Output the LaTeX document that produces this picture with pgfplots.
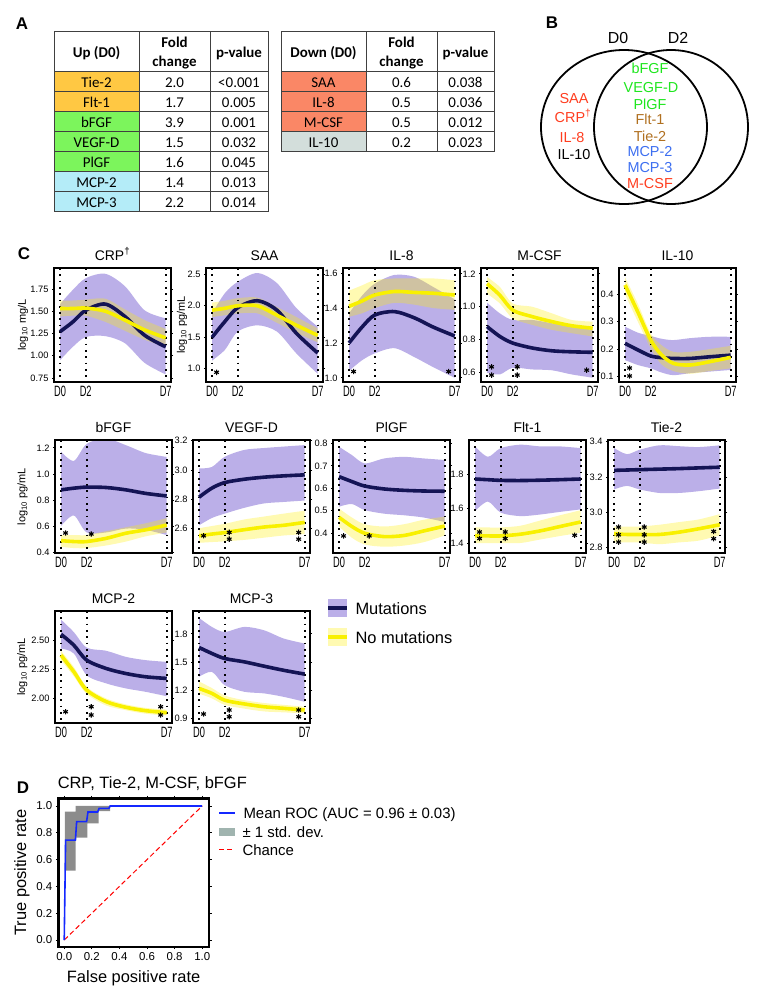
\documentclass[border=0pt]{standalone}
\usepackage{fontspec}
\setmainfont{Liberation Sans}
\newfontfamily\tabfont{Carlito}
\usepackage{graphicx}
\usepackage{pgfplots}
\usepackage{pgfplotstable}
\pgfplotsset{compat=1.18}
\usepgfplotslibrary{fillbetween}

\definecolor{navyc}{RGB}{20,20,85}
\definecolor{purpc}{RGB}{120,95,210}
\definecolor{yelc}{RGB}{248,240,0}
\definecolor{yelband}{RGB}{255,240,0}
\definecolor{orangec}{RGB}{255,200,67}
\definecolor{greenc}{RGB}{124,245,92}
\definecolor{bluec}{RGB}{180,236,248}
\definecolor{salmonc}{RGB}{250,135,102}
\definecolor{greyc}{RGB}{211,222,219}
\definecolor{vred}{RGB}{255,61,31}
\definecolor{vgreen}{RGB}{30,230,30}
\definecolor{vbrown}{RGB}{176,112,32}
\definecolor{vblue}{RGB}{60,110,240}
\definecolor{rocblue}{RGB}{20,40,255}
\definecolor{bandgray}{RGB}{140,140,140}
\definecolor{leggray}{RGB}{160,180,175}

\newcommand\fs[1]{\fontsize{#1}{#1}\selectfont}
\newcommand\dlab[1]{\scalebox{0.62}[1]{#1}}

% columns: x, mutations mean/low/high, no mutations mean/low/high
\pgfplotstableread{
x    m     ml    mh    n     nl    nh
0    1.27  0.95  1.58  1.53  1.44  1.62
0.85 1.38  1.10  1.74  1.53  1.45  1.62
1.7  1.51  1.21  1.87  1.535 1.45  1.63
3    1.58  1.22  1.92  1.50  1.38  1.64
4.3  1.44  1.14  1.78  1.40  1.28  1.52
5.6  1.23  0.92  1.51  1.29  1.18  1.40
7    1.10  0.79  1.42  1.20  1.10  1.30
}\crp
\pgfplotstableread{
x    m     ml    mh    n     nl    nh
0    1.50  1.13  1.88  1.93  1.82  2.05
0.85 1.75  1.30  2.20  1.96  1.85  2.08
1.7  1.97  1.59  2.38  2.00  1.88  2.12
3    2.08  1.69  2.52  2.00  1.88  2.13
4.3  1.93  1.59  2.36  1.85  1.73  1.98
5.6  1.56  1.24  1.96  1.69  1.57  1.82
7    1.25  0.92  1.67  1.53  1.42  1.64
}\saa
\pgfplotstableread{
x    m     ml    mh    n     nl    nh
0    1.20  1.04  1.37  1.41  1.35  1.50
0.85 1.29  1.10  1.47  1.44  1.37  1.53
1.7  1.36  1.14  1.54  1.475 1.40  1.56
3    1.38  1.17  1.59  1.495 1.43  1.57
4.3  1.345 1.12  1.58  1.49  1.42  1.57
5.6  1.29  1.06  1.52  1.485 1.40  1.57
7    1.24  1.00  1.45  1.475 1.39  1.56
}\ileight
\pgfplotstableread{
x    m     ml    mh    n     nl    nh
0    0.88  0.60  1.025 1.14  1.08  1.18
0.85 0.82  0.59  0.96  1.07  1.02  1.12
1.7  0.78  0.63  0.92  0.98  0.93  1.02
3    0.75  0.62  0.92  0.94  0.89  1.00
4.3  0.733 0.615 0.90  0.91  0.86  0.96
5.6  0.727 0.59  0.88  0.885 0.84  0.92
7    0.724 0.57  0.86  0.87  0.82  0.91
}\mcsf
\pgfplotstableread{
x    m     ml    mh    n     nl    nh
0    0.221 0.16  0.282 0.434 0.40  0.462
0.85 0.197 0.142 0.26  0.335 0.30  0.365
1.7  0.175 0.13  0.248 0.233 0.203 0.257
2.4  0.169 0.115 0.238 0.18  0.145 0.215
3.2  0.166 0.105 0.233 0.148 0.12  0.19
4.3  0.166 0.112 0.24  0.142 0.11  0.19
5.6  0.172 0.118 0.245 0.154 0.12  0.20
7    0.178 0.124 0.245 0.17  0.13  0.212
}\ilten
\pgfplotstableread{
x    m     ml    mh    n     nl    nh
0    0.877 0.60  1.17  0.487 0.44  0.53
0.85 0.89  0.68  1.10  0.48  0.43  0.53
1.7  0.898 0.55  1.23  0.48  0.43  0.53
3    0.895 0.55  1.27  0.505 0.45  0.56
4.3  0.877 0.58  1.22  0.544 0.48  0.59
5.6  0.85  0.57  1.16  0.57  0.52  0.62
7    0.83  0.53  1.13  0.607 0.55  0.66
}\bfgf
\pgfplotstableread{
x    m     ml    mh    n     nl    nh
0    2.813 2.62  3.01  2.548 2.50  2.60
0.85 2.875 2.67  3.02  2.56  2.505 2.615
1.7  2.913 2.70  3.09  2.57  2.51  2.63
3    2.936 2.74  3.137 2.59  2.52  2.66
4.3  2.95  2.77  3.15  2.608 2.535 2.68
5.6  2.959 2.78  3.16  2.62  2.55  2.70
7    2.966 2.79  3.17  2.64  2.56  2.72
}\vegfd
\pgfplotstableread{
x    m     ml    mh    n     nl    nh
0    0.652 0.518 0.785 0.471 0.43  0.51
0.85 0.63  0.53  0.748 0.43  0.38  0.47
1.7  0.61  0.503 0.711 0.40  0.35  0.44
3    0.597 0.487 0.733 0.385 0.34  0.43
4.3  0.591 0.48  0.74  0.39  0.345 0.44
5.6  0.588 0.47  0.733 0.41  0.36  0.46
7    0.587 0.45  0.726 0.432 0.39  0.474
}\plgf
\pgfplotstableread{
x    m     ml    mh    n     nl    nh
0    1.771 1.585 1.96  1.441 1.40  1.49
0.85 1.767 1.64  1.90  1.441 1.40  1.49
1.7  1.763 1.576 1.95  1.441 1.40  1.49
3    1.762 1.556 1.97  1.451 1.40  1.50
4.3  1.764 1.565 1.96  1.47  1.42  1.53
5.6  1.767 1.58  1.96  1.495 1.44  1.56
7    1.771 1.595 1.95  1.522 1.46  1.59
}\fltone
\pgfplotstableread{
x    m     ml    mh    n     nl    nh
0    3.238 3.13  3.365 2.879 2.83  2.92
0.85 3.240 3.15  3.33  2.875 2.83  2.92
1.7  3.242 3.13  3.355 2.875 2.83  2.92
3    3.245 3.11  3.38  2.875 2.82  2.93
4.3  3.248 3.11  3.375 2.888 2.83  2.945
5.6  3.252 3.12  3.37  2.907 2.84  2.96
7    3.256 3.135 3.38  2.93  2.87  2.99
}\tietwo
\pgfplotstableread{
x    m     ml    mh    n     nl    nh
0    2.552 2.43  2.678 2.372 2.33  2.41
0.85 2.458 2.387 2.57  2.23  2.19  2.27
1.7  2.33  2.20  2.438 2.073 2.04  2.10
3    2.258 2.13  2.41  1.973 1.94  2.00
4.3  2.215 2.087 2.358 1.925 1.90  1.95
5.6  2.187 2.058 2.33  1.896 1.87  1.92
7    2.173 2.02  2.315 1.879 1.855 1.905
}\mcptwo
\pgfplotstableread{
x    m     ml    mh    n     nl    nh
0    1.654 1.34  1.97  1.216 1.16  1.29
0.85 1.59  1.393 1.874 1.163 1.11  1.22
1.7  1.536 1.251 1.82  1.09  1.04  1.14
3    1.50  1.18  1.874 1.05  1.00  1.09
4.3  1.454 1.163 1.838 1.02  0.97  1.06
5.6  1.41  1.126 1.75  1.003 0.96  1.04
7    1.369 1.073 1.696 0.985 0.95  1.02
}\mcpthree

\tikzset{
  tline/.style={black!75, line width=0.8bp},
  dotl/.style={black, line width=1.7bp, dash pattern=on 1.7bp off 4.6bp},
}
% significance stars, drawn as marks at their data positions
\newcommand\stars[1]{\addplot[only marks, mark=asterisk, mark size=2.7bp,
  mark options={black, line width=1.1bp}] coordinates {#1};}

\newcommand\cplot[1]{%
  \addplot[draw=none, name path=mh, smooth] table[x=x, y=mh] {#1};
  \addplot[draw=none, name path=ml, smooth] table[x=x, y=ml] {#1};
  \addplot[fill=purpc, fill opacity=0.5, draw=none] fill between[of=mh and ml];
  \addplot[draw=none, name path=nh, smooth] table[x=x, y=nh] {#1};
  \addplot[draw=none, name path=nl, smooth] table[x=x, y=nl] {#1};
  \addplot[fill=yelband, fill opacity=0.3, draw=none] fill between[of=nh and nl];
  \draw[dotl] ({axis cs:0,0} |- {rel axis cs:0,1}) -- ({axis cs:0,0} |- {rel axis cs:0,0});
  \draw[dotl] ({axis cs:1.7,0} |- {rel axis cs:0,1}) -- ({axis cs:1.7,0} |- {rel axis cs:0,0});
  \draw[dotl] ({axis cs:7,0} |- {rel axis cs:0,1}) -- ({axis cs:7,0} |- {rel axis cs:0,0});
  \addplot[navyc, line width=3.6bp, smooth] table[x=x, y=m] {#1};
  \addplot[yelc, line width=3.6bp, smooth] table[x=x, y=n] {#1};
}

\pgfplotsset{
  cp/.style={
    scale only axis, width=117bp, height=113bp, anchor=north west,
    xmin=-0.4, xmax=7.35,
    axis line style={line width=2.4bp},
    axis on top,
    xtick={0,1.7,7}, xticklabels={\dlab{D0},\dlab{D2},\dlab{D7}},
    xtick style={draw=none},
    xticklabel style={font=\fs{15}, anchor=north, yshift=1bp},
    ytick style={black, line width=0.7bp},
    tick align=outside, major tick length=2bp,
    yticklabel style={font=\fs{9.3},
      /pgf/number format/fixed, /pgf/number format/fixed zerofill,
      /pgf/number format/precision=1, /pgf/number format/assume math mode=true},
    every axis title/.style={at={(0.5,1)}, anchor=base, yshift=8bp, font=\fs{14}},
    ylabel style={font=\fs{11}, anchor=center},
  },
  p2/.style={yticklabel style={/pgf/number format/precision=2}},
}

\begin{document}
\begin{tikzpicture}
\path (0,0) rectangle (768bp,-1000bp);

\begin{scope}[x=1bp, y=-1bp]
% panel letters
\foreach \l/\px/\py in {A/22/29, B/552/28, C/24/259, D/23/793}
  \node[font=\fs{17}\bfseries, anchor=base] at (\px,\py) {\l};

% ---- A: tables
\fill[orangec] (54,71) rectangle (139,111);
\fill[greenc] (54,111) rectangle (139,171);
\fill[bluec] (54,171) rectangle (139,211);
\fill[salmonc] (281,71) rectangle (366,131);
\fill[greyc] (281,131) rectangle (366,151);
\draw[tline] (54,31) rectangle (268,211);
\foreach \xx in {139,210} \draw[tline] (\xx,31) -- (\xx,211);
\foreach \yy in {71,91,...,191} \draw[tline] (54,\yy) -- (268,\yy);
\draw[tline] (281,31) rectangle (494,151);
\foreach \xx in {366,437} \draw[tline] (\xx,31) -- (\xx,151);
\foreach \yy in {71,91,...,131} \draw[tline] (281,\yy) -- (494,\yy);
\begin{scope}[font={\tabfont\fs{15}}]
  \node[anchor=base, font={\tabfont\fs{15}\bfseries}] at (96.5,57) {Up (D0)};
  \node[anchor=base, font={\tabfont\fs{15}\bfseries}] at (174.5,47) {Fold};
  \node[anchor=base, font={\tabfont\fs{15}\bfseries}] at (174.5,66) {change};
  \node[anchor=base, font={\tabfont\fs{15}\bfseries}] at (239,57) {p-value};
  \node[anchor=base, font={\tabfont\fs{15}\bfseries}] at (323.5,57) {Down (D0)};
  \node[anchor=base, font={\tabfont\fs{15}\bfseries}] at (401.5,47) {Fold};
  \node[anchor=base, font={\tabfont\fs{15}\bfseries}] at (401.5,66) {change};
  \node[anchor=base, font={\tabfont\fs{15}\bfseries}] at (465.5,57) {p-value};
  \foreach \nm/\fc/\pv [count=\i from 0] in {Tie-2/2.0/<0.001, Flt-1/1.7/0.005,
      bFGF/3.9/0.001, VEGF-D/1.5/0.032, PlGF/1.6/0.045, MCP-2/1.4/0.013, MCP-3/2.2/0.014} {
    \node[anchor=base] at (96.5,87+20*\i) {\nm};
    \node[anchor=base] at (174.5,87+20*\i) {\fc};
    \node[anchor=base] at (239,87+20*\i) {\pv};
  }
  \foreach \nm/\fc/\pv [count=\i from 0] in {SAA/0.6/0.038, IL-8/0.5/0.036,
      M-CSF/0.5/0.012, IL-10/0.2/0.023} {
    \node[anchor=base] at (323.5,87+20*\i) {\nm};
    \node[anchor=base] at (401.5,87+20*\i) {\fc};
    \node[anchor=base] at (465.5,87+20*\i) {\pv};
  }
\end{scope}

% ---- B: Venn diagram
\draw[line width=1.8bp] (624,127) ellipse [x radius=83bp, y radius=77bp];
\draw[line width=1.8bp] (671,127) ellipse [x radius=77bp, y radius=77bp];
\node[font=\fs{16}, anchor=base] at (618,43) {D0};
\node[font=\fs{16}, anchor=base] at (678,43) {D2};
\begin{scope}[font=\fs{14.5}]
  \node[anchor=base, text=vred] at (574,103.2) {SAA};
  \node[anchor=base, text=vred] at (573,122.2) {CRP\textsuperscript{†}};
  \node[anchor=base, text=vred] at (572,142.2) {IL-8};
  \node[anchor=base] at (574,159.7) {IL-10};
  \node[anchor=base, text=vgreen] at (650,73.2) {bFGF};
  \node[anchor=base, text=vgreen] at (651,92.2) {VEGF-D};
  \node[anchor=base, text=vgreen] at (650,109.2) {PlGF};
  \node[anchor=base, text=vbrown] at (650,124.2) {Flt-1};
  \node[anchor=base, text=vbrown] at (650,141) {Tie-2};
  \node[anchor=base, text=vblue] at (650,156.9) {MCP-2};
  \node[anchor=base, text=vblue] at (650,172.7) {MCP-3};
  \node[anchor=base, text=vred] at (650,188.2) {M-CSF};
\end{scope}

% ---- C legend
\fill[purpc, fill opacity=0.5] (328,599) rectangle (347,617);
\draw[navyc, line width=3.6bp] (328,608) -- (347,608);
\fill[yelband, fill opacity=0.3] (328,628) rectangle (347,646);
\draw[yelc, line width=3.6bp] (328,637) -- (347,637);
\node[font=\fs{16.5}, anchor=base west] at (352,614) {Mutations};
\node[font=\fs{16.5}, anchor=base west] at (352,643) {No mutations};

% ---- D legend
\draw[rocblue, line width=1.6bp] (219,813) -- (235,813);
\node[font=\fs{15}, anchor=base west] at (240,818) {Mean ROC (AUC = 0.96 ± 0.03)};
\fill[leggray] (219,828) rectangle (235,836);
\node[font=\fs{15}, anchor=base west] at (239,837.4) {± 1 std. dev.};
\draw[red, line width=1bp, dash pattern=on 5bp off 3bp] (219,849) -- (235,849);
\node[font=\fs{15}, anchor=base west] at (239,855) {Chance};
\end{scope}

% ---- C: row 1
\begin{axis}[cp, at={(54bp,-268bp)}, height=114bp, ymin=0.705, ymax=1.985,
  ytick={0.75,1,1.25,1.5,1.75}, p2, title={CRP\textsuperscript{†}},
  ylabel={log\textsubscript{10} mg/L}, ylabel style={at={(axis description cs:-0.265,0.5)}}]
\cplot{\crp}
\end{axis}
\begin{axis}[cp, at={(206bp,-268bp)}, height=114bp, ymin=0.79, ymax=2.6,
  ytick={1,1.5,2,2.5}, title={SAA},
  ylabel={log\textsubscript{10} pg/mL}, ylabel style={at={(axis description cs:-0.205,0.5)}}]
\cplot{\saa}
\stars{(0.3,0.944)}
\end{axis}
\begin{axis}[cp, at={(343bp,-268bp)}, height=114bp, ymin=0.976, ymax=1.63,
  ytick={1,1.2,1.4,1.6}, title={IL-8}]
\cplot{\ileight}
\stars{(0.3,1.036)(6.6,1.036)}
\end{axis}
\begin{axis}[cp, at={(481bp,-268bp)}, height=114bp, ymin=0.544, ymax=1.235,
  ytick={0.6,0.8,1,1.2}, title={M-CSF}]
\cplot{\mcsf}
\stars{(0.3,0.636)(0.3,0.586)(2.0,0.636)(2.0,0.586)(6.6,0.616)}
\end{axis}
\begin{axis}[cp, at={(619bp,-268bp)}, height=114bp, ymin=0.08, ymax=0.496,
  ytick={0.1,0.2,0.3,0.4}, title={IL-10}]
\cplot{\ilten}
\stars{(0.3,0.131)(0.3,0.102)}
\end{axis}

% ---- C: row 2
\begin{axis}[cp, at={(55bp,-440bp)}, ymin=0.392, ymax=1.26,
  ytick={0.4,0.6,0.8,1,1.2}, title={bFGF},
  ylabel={log\textsubscript{10} pg/mL}, ylabel style={at={(axis description cs:-0.278,0.5)}}]
\cplot{\bfgf}
\stars{(0.3,0.546)(2.0,0.538)}
\end{axis}
\begin{axis}[cp, at={(193bp,-440bp)}, ymin=2.43, ymax=3.205,
  ytick={2.6,2.8,3,3.2}, title={VEGF-D}]
\cplot{\vegfd}
\stars{(0.3,2.548)(2.0,2.571)(2.0,2.525)(6.6,2.571)(6.6,2.525)}
\end{axis}
\begin{axis}[cp, at={(333bp,-440bp)}, ymin=0.312, ymax=0.815,
  ytick={0.4,0.5,0.6,0.7,0.8}, title={PlGF}]
\cplot{\plgf}
\stars{(0.3,0.388)(2.0,0.388)}
\end{axis}
\begin{axis}[cp, at={(469bp,-440bp)}, ymin=1.342, ymax=1.997,
  ytick={1.4,1.6,1.8}, title={Flt-1}]
\cplot{\fltone}
\stars{(0.3,1.464)(0.3,1.426)(2.0,1.464)(2.0,1.426)(6.6,1.445)}
\end{axis}
\begin{axis}[cp, at={(608bp,-440bp)}, ymin=2.77, ymax=3.41,
  ytick={2.8,3,3.2,3.4}, title={Tie-2}]
\cplot{\tietwo}
\stars{(0.3,2.917)(0.3,2.873)(0.3,2.832)(2.0,2.917)(2.0,2.873)(2.0,2.832)(6.6,2.892)(6.6,2.851)}
\end{axis}

% ---- C: row 3
\begin{axis}[cp, at={(55bp,-611bp)}, height=112bp, ymin=1.79, ymax=2.752,
  ytick={2,2.25,2.5}, p2, title={MCP-2},
  ylabel={log\textsubscript{10} pg/mL}, ylabel style={at={(axis description cs:-0.28,0.5)}}]
\cplot{\mcptwo}
\stars{(0.3,1.887)(2.0,1.93)(2.0,1.859)(6.6,1.93)(6.6,1.859)}
\end{axis}
\begin{axis}[cp, at={(193bp,-611bp)}, height=112bp, ymin=0.846, ymax=2.044,
  ytick={0.9,1.2,1.5,1.8}, title={MCP-3}]
\cplot{\mcpthree}
\stars{(0.3,0.942)(2.0,0.985)(2.0,0.913)(6.6,0.985)(6.6,0.913)}
\end{axis}

% ---- D: ROC
\begin{axis}[scale only axis, at={(58.3bp,-798.3bp)}, anchor=north west,
  width=150.7bp, height=148.4bp,
  xmin=-0.043, xmax=1.049, ymin=-0.05, ymax=1.057,
  xtick={0,0.2,0.4,0.6,0.8,1}, ytick={0,0.2,0.4,0.6,0.8,1},
  tick align=outside, major tick length=2.5bp, tick style={black, line width=0.7bp},
  axis line style={line width=2.4bp}, axis on top,
  ticklabel style={font=\fs{11.5}, /pgf/number format/fixed,
    /pgf/number format/fixed zerofill, /pgf/number format/precision=1,
    /pgf/number format/assume math mode=true},
  xlabel={False positive rate}, ylabel={True positive rate},
  label style={font=\fs{16.5}},
  xlabel style={at={(axis description cs:0.5,0)}, anchor=base, yshift=-36bp},
  ylabel style={at={(axis description cs:-0.241,0.5)}, anchor=center},
  title={CRP, Tie-2, M-CSF, bFGF},
  title style={at={(axis description cs:-0.027,1)}, anchor=base west, yshift=4.3bp, font=\fs{16.5}}]
\addplot[draw=none, name path=up] coordinates {(0.005,0.957)(0.083,0.957)(0.083,1)(0.333,1)};
\addplot[draw=none, name path=lo] coordinates {(0.005,0.517)(0.083,0.517)(0.083,0.763)(0.167,0.763)
  (0.167,0.87)(0.25,0.87)(0.25,0.962)(0.333,0.962)(0.333,1)};
\addplot[fill=bandgray, draw=none] fill between[of=up and lo];
\addplot[red, line width=1bp, dash pattern=on 5bp off 3bp] coordinates {(0,0)(1,1)};
\addplot[rocblue, line width=1.6bp] coordinates {(0,0)(0.01,0.745)(0.081,0.745)(0.09,0.883)
  (0.162,0.883)(0.172,0.955)(0.242,0.955)(0.253,0.982)(0.323,0.982)(0.333,1)(1,1)};
\end{axis}
\end{tikzpicture}
\end{document}
